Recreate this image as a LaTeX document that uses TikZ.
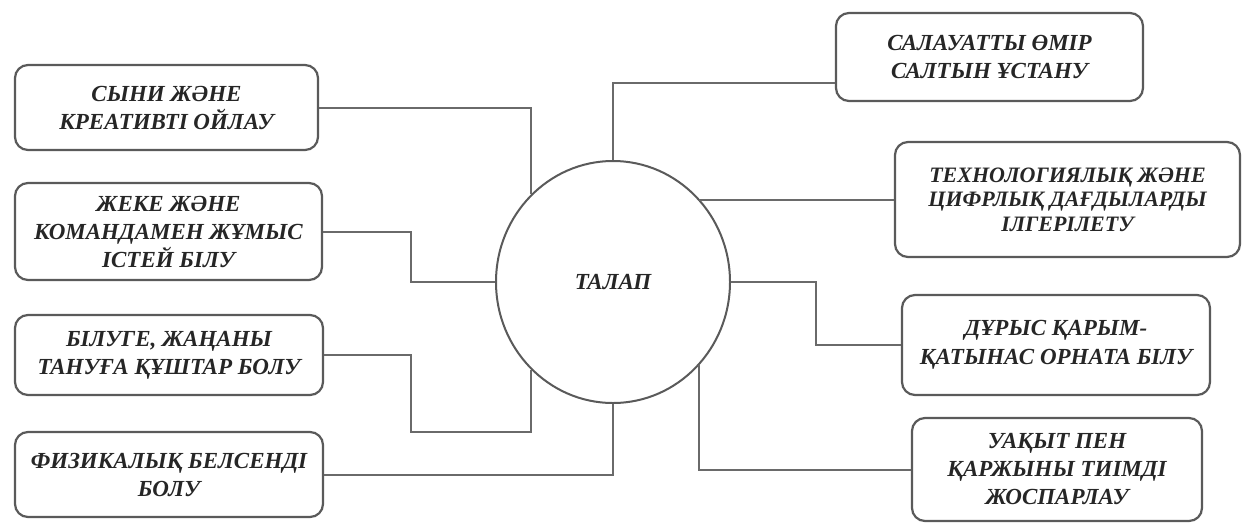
\documentclass[tikz,border=0pt]{standalone}
\usepackage{fontspec}
\setmainfont{Liberation Serif}
\usetikzlibrary{shapes.geometric}
\definecolor{boxgray}{HTML}{5A5A5A}
\definecolor{linegray}{HTML}{6A6A6A}
\definecolor{txt}{HTML}{262626}
\begin{document}
\begin{tikzpicture}[x=1pt,y=-1pt,
  box/.style={draw=boxgray, line width=2.2pt, rounded corners=13pt, align=center,
    inner sep=0pt, text=txt, font=\bfseries\itshape\fontsize{23}{28}\selectfont},
  hub/.style={draw=boxgray, line width=2pt, ellipse, minimum width=234pt,
    minimum height=242pt, inner sep=0pt, text=txt, font=\bfseries\itshape\fontsize{23}{26}\selectfont},
  link/.style={draw=linegray, line width=2pt}]
\useasboundingbox[fill=white] (0,0) rectangle (1243,523);

\node[hub] (c) at (613,282) {ТАЛАП};

\node[box, minimum width=303pt, minimum height=85pt] (L1) at (166.5,107.5)
  {СЫНИ ЖӘНЕ\\КРЕАТИВТІ ОЙЛАУ};
\node[box, minimum width=307pt, minimum height=97pt] (L2) at (168.5,231.5)
  {ЖЕКЕ ЖӘНЕ\\КОМАНДАМЕН ЖҰМЫС\\ІСТЕЙ БІЛУ};
\node[box, minimum width=308pt, minimum height=80pt] (L3) at (169,355)
  {БІЛУГЕ, ЖАҢАНЫ\\ТАНУҒА ҚҰШТАР БОЛУ};
\node[box, minimum width=308pt, minimum height=85pt] (L4) at (169,474.5)
  {ФИЗИКАЛЫҚ БЕЛСЕНДІ\\БОЛУ};

\node[box, minimum width=307pt, minimum height=88pt] (R1) at (989.5,57)
  {САЛАУАТТЫ ӨМІР\\САЛТЫН ҰСТАНУ};
\node[box, minimum width=345pt, minimum height=115pt,
  font=\bfseries\itshape\fontsize{22}{24.5}\selectfont] (R2) at (1067.5,199.5)
  {ТЕХНОЛОГИЯЛЫҚ ЖӘНЕ\\ЦИФРЛЫҚ ДАҒДЫЛАРДЫ\\ІЛГЕРІЛЕТУ};
\node[box, minimum width=308pt, minimum height=100pt,
  font=\bfseries\itshape\fontsize{23}{29}\selectfont] (R3) at (1056,345)
  {ДҰРЫС ҚАРЫМ-\\ҚАТЫНАС ОРНАТА БІЛУ};
\node[box, minimum width=290pt, minimum height=103pt] (R4) at (1057,469.5)
  {УАҚЫТ ПЕН\\ҚАРЖЫНЫ ТИІМДІ\\ЖОСПАРЛАУ};

\draw[link] (L1.east) -| (c.133);
\draw[link] (L2.east) -- ++(88,0) |- (c.west);
\draw[link] (L3.east) -- ++(87,0) -- ++(0,77) -| (c.227);
\draw[link] (L4.east) -| (c.south);

\draw[link] (c.north) |- ([yshift=-26pt]R1.west);
\draw[link] (R2.west -| c.44) -- (R2.west);
\draw[link] (c.east) -- ++(85,0) |- (R3.west);
\draw[link] (c.316) |- (R4.west);
\end{tikzpicture}
\end{document}
